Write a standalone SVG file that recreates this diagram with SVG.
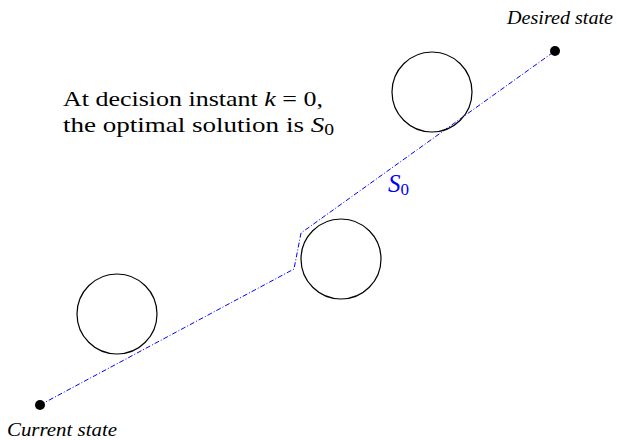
<svg xmlns="http://www.w3.org/2000/svg" width="617" height="440" viewBox="0 0 617 440">
<style>
.obs{fill:none;stroke:#000;stroke-width:1.2}
.path{fill:none;stroke:#0000ff;stroke-width:1;stroke-dasharray:5 2 1 2}
.txt{font-family:"Liberation Serif","DejaVu Serif",serif;font-size:22px;fill:#000}
.lbl{font-family:"Liberation Serif","DejaVu Serif",serif;font-size:19px;font-style:italic;fill:#000}
</style>
<rect width="617" height="440" fill="#fff"/>
<g id="connectors">
<polyline class="path" points="40,405 294,269 301,233 555,51"/>
</g>
<g id="obstacle1"><circle class="obs" cx="117" cy="314" r="40"/></g>
<g id="obstacle2"><circle class="obs" cx="341" cy="259" r="40"/></g>
<g id="obstacle3"><circle class="obs" cx="432" cy="92" r="40"/></g>
<g id="start"><circle cx="40" cy="405" r="5" fill="#000"/><text class="lbl" x="7" y="436" textLength="110" lengthAdjust="spacingAndGlyphs">Current state</text></g>
<g id="goal"><circle cx="555" cy="51" r="5" fill="#000"/><text class="lbl" x="507" y="24" textLength="106" lengthAdjust="spacingAndGlyphs">Desired state</text></g>
<g id="caption">
<text class="txt" x="63" y="106" textLength="260" lengthAdjust="spacingAndGlyphs">At decision instant <tspan font-style="italic">k</tspan> = 0,</text>
<text class="txt" x="63" y="132" textLength="271" lengthAdjust="spacingAndGlyphs">the optimal solution is <tspan font-style="italic">S</tspan><tspan font-size="16" dy="3">0</tspan></text>
</g>
<g id="s0label"><text class="txt" x="388" y="192" style="fill:#0000ff;font-size:25px"><tspan font-style="italic">S</tspan><tspan font-size="17" dy="3">0</tspan></text></g>
</svg>
